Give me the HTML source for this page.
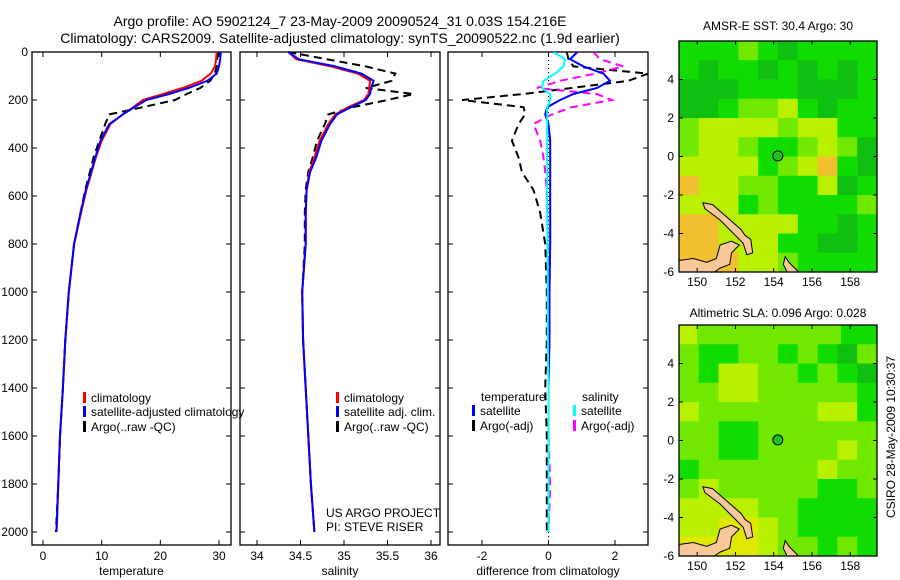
<!DOCTYPE html>
<html><head><meta charset="utf-8">
<style>
html,body{margin:0;padding:0;background:#fff;}
svg{display:block;font-family:"Liberation Sans",sans-serif;}
text{fill:#000;}
</style></head>
<body>
<svg id="fig" width="900" height="580" viewBox="0 0 900 580" xmlns="http://www.w3.org/2000/svg">
<text x="340" y="26" font-size="14" text-anchor="middle">Argo profile: AO 5902124_7 23-May-2009 20090524_31 0.03S 154.216E</text>
<text x="340" y="43" font-size="14" text-anchor="middle">Climatology: CARS2009. Satellite-adjusted climatology: synTS_20090522.nc (1.9d earlier)</text>
<text x="778" y="30" font-size="12" text-anchor="middle">AMSR-E SST: 30.4  Argo: 30</text>
<text x="778" y="317" font-size="12" text-anchor="middle">Altimetric SLA: 0.096  Argo: 0.028</text>
<text transform="translate(895,437) rotate(-90)" font-size="12" text-anchor="middle">CSIRO 28-May-2009 10:30:37</text>
<g id="plots"></g>
</svg>
<script>
// ---- data ----
const depths = [0,30,60,90,120,150,175,200,230,260,300,370,440,500,575,670,800,1000,1200,1400,1600,1800,2000];
const tempClim = [29.6,29.5,29.3,28.6,27.0,23.8,20.5,17.0,15.4,13.6,11.5,10.0,9.0,8.3,7.4,6.5,5.3,4.4,3.8,3.4,2.9,2.6,2.3];
const tempSat  = [30.3,30.2,30.0,29.6,28.0,24.8,21.5,17.6,15.6,13.6,11.3,9.8,8.9,8.2,7.3,6.4,5.3,4.4,3.8,3.4,2.9,2.6,2.3];
const tempArgo = [29.8,29.7,29.6,29.3,28.5,26.8,24.5,22.5,17.0,11.3,10.6,9.6,8.6,8.0,7.2,6.4,5.3,4.4,3.8,3.4,2.9,2.6,2.2];
const salClim  = [34.36,34.45,34.85,35.16,35.30,35.29,35.28,35.23,35.05,34.90,34.82,34.72,34.66,34.60,34.57,34.56,34.56,34.52,34.53,34.56,34.59,34.62,34.66];
const salSat   = [34.36,34.48,34.90,35.20,35.34,35.31,35.30,35.25,35.08,34.92,34.84,34.74,34.68,34.61,34.57,34.56,34.56,34.52,34.53,34.56,34.59,34.62,34.66];
const salArgo  = [34.36,34.80,35.25,35.59,35.55,35.25,35.80,35.50,35.10,34.82,34.78,34.69,34.64,34.59,34.56,34.55,34.55,34.52,34.53,34.56,34.59,34.62,34.66];
const diffTSat  = [0.87,0.65,1.05,1.65,1.85,1.46,0.75,0.35,-0.04,-0.1,0.0,0.05,0.05,0.05,0.05,0.05,0.05,0.03,0.03,0.0,0.0,0.0,0.0];
const diffTArgo = [0.55,0.6,0.75,3.0,2.4,0.7,-0.75,-2.6,-0.75,-0.7,-0.9,-1.1,-0.9,-0.8,-0.45,-0.25,-0.1,-0.05,-0.05,-0.1,-0.05,-0.05,-0.05];
const diffSSat  = [0.15,0.5,0.45,0.2,-0.15,-0.2,0.05,0.05,-0.04,-0.04,-0.04,-0.04,-0.04,-0.04,-0.04,-0.04,-0.03,-0.02,-0.02,0.0,0.0,0.0,0.0];
const diffSArgo = [1.35,1.55,2.25,1.4,0.35,-0.35,1.45,1.9,0.7,0.1,-0.45,-0.25,-0.15,-0.1,-0.05,-0.04,-0.02,0.0,0.0,0.0,0.0,0.05,0.0];
const depthTicks = [0,200,400,600,800,1000,1200,1400,1600,1800,2000];
const tempTicks = [0,10,20,30];
const salTicks = [34,34.5,35,35.5,36];
const diffTicks = [-2,0,2];
const latTicks = [4,2,0,-2,-4,-6];
const lonTicks = [150,152,154,156,158];
// SST map grid rows (lat 6 -> -6), cols lon 149 -> 159.4
const sstRows = ["gggl gdgggg","gdggdgdgdg","dddgggdddg","ddglly gdgg","lyyyylyygg","lyylggl yld","yyyyglyogd","oyyllggydg","yyyglggggl","ooyyyyggdg","ooyyyggddg","oooyylgggg"].map(r=>r.replace(/ /g,''));
const slaRows = ["yllllllllgg","lggllglgd l","lgyyllglgd","llyylllllg","yllllllyyg","llggllllll","llggllllyl","gllllllyll","lylllllgg l","yyyyllgggg","yyYYylgggg","YYYYyllglg"].map(r=>r.replace(/ /g,''));
const floatLon = 154.216, floatLat = 0.03;

// ---- helpers ----
const NS="http://www.w3.org/2000/svg";
const root=document.getElementById('plots');
function mk(tag,attrs,parent){const e=document.createElementNS(NS,tag);for(const k in attrs)e.setAttribute(k,attrs[k]);(parent||root).appendChild(e);return e;}
function lin(d0,d1,r0,r1){return v=>r0+(v-d0)*(r1-r0)/(d1-d0);}
const yDepth=lin(0,2000,52,532);

function panel(name,L,R,xs,xticks,xlabel,fmt){
  const g=mk('g',{});
  
  
  const box=mk('rect',{x:L,y:52,width:R-L,height:493,fill:'none',stroke:'#000','stroke-width':1.3},g);
  
  
  xticks.forEach(t=>{const x=xs(t);
    mk('line',{x1:x,x2:x,y1:545,y2:540,stroke:'#000'},g);
    mk('line',{x1:x,x2:x,y1:52,y2:57,stroke:'#000'},g);
    const tx=mk('text',{x:x,y:560,'font-size':12,'text-anchor':'middle'},g);tx.textContent=fmt(t);
    
    
  });
  depthTicks.forEach(d=>{const y=yDepth(d);
    mk('line',{x1:L,x2:L+5,y1:y,y2:y,stroke:'#000'},g);
    mk('line',{x1:R,x2:R-5,y1:y,y2:y,stroke:'#000'},g);
  });
  const xl=mk('text',{x:(L+R)/2,y:575,'font-size':12,'text-anchor':'middle'},g);xl.textContent=xlabel;
  
  
  return g;
}
function series(g,xs,vals,color,dash,name,w){
  const d=vals.map((v,i)=>(i?'L':'M')+xs(v).toFixed(1)+','+yDepth(depths[i]).toFixed(1)).join('');
  const p=mk('path',{d:d,fill:'none',stroke:color,'stroke-width':w||2,'stroke-dasharray':dash||'none'},g);
  
  
}
function legend(g,x,y,color,label,name){
  mk('rect',{x:x,y:y-10,width:3,height:11,fill:color},g);
  const t=mk('text',{x:x+8,y:y,'font-size':12},g);t.textContent=label;
  
  
}
depthTicks.forEach(d=>{const t=mk('text',{x:28,y:yDepth(d)+4,'font-size':12,'text-anchor':'end'});t.textContent=d;
  
  });

// Panel 1 temperature
const xT=lin(0,30,43,219);
const g1=panel('temperature-panel',32,231,xT,tempTicks,'temperature',v=>v);
series(g1,xT,tempArgo,'#000','8,5','argo-temperature-line');
series(g1,xT,tempClim,'#f00',null,'climatology-temperature-line');
series(g1,xT,tempSat,'#00f',null,'satellite-temperature-line');
legend(g1,83,402,'#f00','climatology','legend-climatology');
legend(g1,83,416,'#00f','satellite-adjusted climatology','legend-satellite');
legend(g1,83,431,'#000','Argo(..raw -QC)','legend-argo');

// Panel 2 salinity
const xS=lin(34,36,257,431);
const g2=panel('salinity-panel',240,440,xS,salTicks,'salinity',v=>v);
series(g2,xS,salArgo,'#000','8,5','argo-salinity-line');
series(g2,xS,salClim,'#f00',null,'climatology-salinity-line');
series(g2,xS,salSat,'#00f',null,'satellite-salinity-line');
legend(g2,336,402,'#f00','climatology','legend-climatology-sal');
legend(g2,336,416,'#00f','satellite adj. clim.','legend-satellite-sal');
legend(g2,336,431,'#000','Argo(..raw -QC)','legend-argo-sal');
const n1=mk('text',{x:326,y:517,'font-size':12},g2);n1.textContent='US ARGO PROJECT';


const n2=mk('text',{x:326,y:531,'font-size':12},g2);n2.textContent='PI: STEVE RISER';



// Panel 3 differences
const xD=lin(-2,2,482,615);
const g3=panel('difference-panel',448,648,xD,diffTicks,'difference from climatology',v=>v);
mk('line',{x1:xD(0),x2:xD(0),y1:52,y2:545,stroke:'#000','stroke-dasharray':'1,3'},g3);
const cp=mk('clipPath',{id:'c3'});mk('rect',{x:448,y:52,width:200,height:493},cp);
const g3c=mk('g',{'clip-path':'url(#c3)'},g3);
series(g3c,xD,diffTArgo,'#000','8,5','argo-temp-diff-line');
series(g3c,xD,diffSArgo,'#f0f','8,5','argo-sal-diff-line');
series(g3c,xD,diffTSat,'#00f',null,'satellite-temp-diff-line');
series(g3c,xD,diffSSat,'#0ff',null,'satellite-sal-diff-line');
const lt=mk('text',{x:481,y:401,'font-size':12},g3);lt.textContent='temperature';


const ls=mk('text',{x:582,y:401,'font-size':12},g3);ls.textContent='salinity';


legend(g3,472,415,'#00f','satellite','legend-temp-satellite');
legend(g3,472,430,'#000','Argo(-adj)','legend-temp-argo');
legend(g3,573,415,'#0ff','satellite','legend-sal-satellite');
legend(g3,573,430,'#f0f','Argo(-adj)','legend-sal-argo');

// Maps
const colors={d:'#10c010',g:'#10dc00',l:'#70e800',y:'#b8f000',Y:'#e0e800',o:'#f0c030'};
function map(name,top,bottom,rows){
  const L=679,R=877;
  const xs=lin(149.05,159.4,L,R), ys=lin(6,-6,top,bottom);
  const g=mk('g',{});
  
  
  rows.forEach((r,i)=>{const cw=(R-L)/r.length;[...r].forEach((c,j)=>{
    const cell=mk('rect',{x:L+j*cw,y:ys(6-i),width:cw+0.5,height:ys(5-i)-ys(6-i)+0.5,fill:colors[c]||colors.l},g);
    
    
  });});
  const P=pts=>pts.map(p=>xs(p[0]).toFixed(1)+','+ys(p[1]).toFixed(1)).join(' ');
  const land=[
    [[149.05,-5.4],[149.8,-5.3],[150.5,-5.5],[151,-5.3],[151.2,-4.6],[151.8,-4.4],[152.2,-4.6],[151.8,-5],[151.7,-5.6],[151.2,-5.8],[150.9,-6],[149.05,-6]],
    [[150.3,-2.4],[150.8,-2.5],[151.5,-3.1],[152.3,-3.8],[152.5,-4.1],[152.8,-4.3],[152.9,-5],[152.6,-5.1],[152.4,-4.5],[151.9,-4],[151.2,-3.3],[150.4,-2.7]],
    [[154.6,-5.2],[154.8,-5.5],[155.3,-6],[154.7,-6],[154.5,-5.6]]
  ];
  land.forEach(l=>{const p=mk('polygon',{points:P(l),fill:'#f8c898',stroke:'#000','stroke-width':1},g);
    
    });
  const c=mk('circle',{cx:xs(floatLon),cy:ys(floatLat),r:5,fill:'#20c020',stroke:'#000','stroke-width':1},g);
  
  
  mk('rect',{x:L,y:top,width:R-L,height:bottom-top,fill:'none',stroke:'#000','stroke-width':1.3},g);
  latTicks.forEach(t=>{const y=ys(t);
    mk('line',{x1:L,x2:L+4,y1:y,y2:y,stroke:'#000'},g);mk('line',{x1:R,x2:R-4,y1:y,y2:y,stroke:'#000'},g);
    const tx=mk('text',{x:L-5,y:y+4,'font-size':12,'text-anchor':'end'},g);tx.textContent=t;
    
    });
  lonTicks.forEach(t=>{const x=xs(t);
    mk('line',{x1:x,x2:x,y1:top,y2:top+4,stroke:'#000'},g);mk('line',{x1:x,x2:x,y1:bottom,y2:bottom-4,stroke:'#000'},g);
    const tx=mk('text',{x:x,y:bottom+14,'font-size':12,'text-anchor':'middle'},g);tx.textContent=t;
    
    });
}
map('sst-map',41,272,sstRows);
map('sla-map',325,556,slaRows);
</script>
</body></html>
